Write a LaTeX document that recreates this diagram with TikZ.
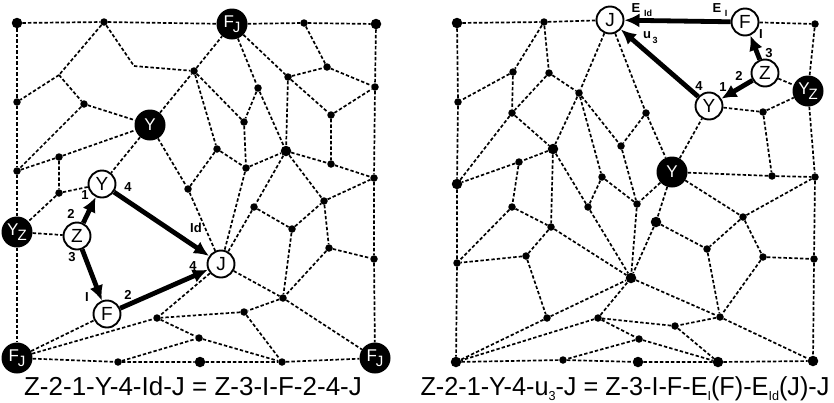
\documentclass[tikz,border=0pt]{standalone}
\usepackage{fontspec}
\setmainfont{Liberation Sans}
\usetikzlibrary{arrows.meta}
\tikzset{
  dl/.style={draw, line width=1.7pt, dash pattern=on 3.4pt off 2.1pt},
  dot/.style={circle, fill=black, inner sep=0pt, minimum size=7.5pt},
  bigdot/.style={circle, fill=black, inner sep=0pt, minimum size=10.5pt},
  wnode/.style={circle, draw=black, line width=1.9pt, fill=white, inner sep=0pt, minimum size=27pt, font=\fontsize{19}{19}\selectfont},
  bnode/.style={circle, fill=black, text=white, inner sep=0pt, minimum size=31pt, font=\fontsize{17}{17}\selectfont},
  thk/.style={draw, line width=4.8pt, -{Latex[length=15pt,width=14pt]}},
  lbl/.style={inner sep=0pt, font=\bfseries\fontsize{13}{13}\selectfont},
  slbl/.style={inner sep=0pt, font=\bfseries\fontsize{9}{9}\selectfont},
  captxt/.style={inner sep=0pt, anchor=base, font=\fontsize{26}{26}\selectfont}
}
\newcommand{\lowsub}[2]{#1\kern-1pt\raisebox{-4.5pt}{\fontsize{15}{15}\selectfont #2}}
\newcommand{\capsub}[1]{\raisebox{-5pt}{\fontsize{13}{13}\selectfont #1}}
\begin{document}
\begin{tikzpicture}[x=1pt,y=-1pt]
\useasboundingbox (0,0) rectangle (834,402);
% ---------------- LEFT PANEL ----------------
\node[bigdot] (Lc1) at (17,23) {};
\node[dot] (Lt1) at (104,22) {};
\node[bnode] (LFJt) at (232,24) {\lowsub{F}{J}};
\node[dot] (Lt2) at (304,23) {};
\node[bigdot] (Lc2) at (376,24) {};
\coordinate (Lj1) at (134,66);
\coordinate (Lj2) at (59,75);
\node[dot] (Ll1) at (17,102) {};
\node[dot] (La4) at (84,104) {};
\node[bnode] (LYb) at (150,125) {Y};
\node[dot] (La5) at (194,71) {};
\node[dot] (Ll2) at (17,171) {};
\node[dot] (La7) at (59,157) {};
\node[dot] (La8) at (59,193) {};
\node[wnode] (LYw) at (102,184) {Y};
\node[dot] (La9) at (188,189) {};
\node[bnode] (LYZ) at (17,232) {\lowsub{Y}{Z}};
\node[wnode] (LZ) at (77,236) {Z};
\node[wnode] (LF) at (107,314) {F};
\node[wnode] (LJ) at (221,264) {J};
\node[bnode] (LFJbl) at (17,358) {\lowsub{F}{J}};
\node[bnode] (LFJbr) at (375,358) {\lowsub{F}{J}};
\node[dot] (Lb1) at (118,362) {};
\node[bigdot] (Lb2) at (200,362) {};
\node[dot] (Lb3) at (282,362) {};
\node[dot] (Lp1) at (258,88) {};
\node[dot] (Lp2) at (288,77) {};
\node[dot] (Lp3) at (327,67) {};
\node[dot] (Lr1) at (375,87) {};
\node[dot] (Lp4) at (244,122) {};
\node[dot] (Lp5) at (331,115) {};
\node[dot] (Lp6) at (217,149) {};
\node[bigdot] (Lp7) at (286,151) {};
\node[dot] (Lp8) at (331,164) {};
\node[dot] (Lp9) at (246,168) {};
\node[dot] (Lr2) at (374,178) {};
\node[dot] (Lq1) at (324,201) {};
\node[dot] (Lq2) at (254,207) {};
\node[dot] (Lq3) at (292,229) {};
\node[dot] (Lq4) at (329,248) {};
\node[dot] (Lr3) at (374,259) {};
\node[dot] (Lq5) at (283,298) {};
\node[dot] (Lq6) at (244,312) {};
\node[dot] (Lq7) at (157,318) {};
\node[dot] (Lq8) at (199,338) {};

\draw[dl] (Lc1)--(Lt1) (Lt1)--(LFJt) (LFJt)--(Lt2) (Lt2)--(Lc2);
\draw[dl] (Lc1)--(Ll1) (Ll1)--(Ll2) (Ll2)--(LYZ) (LYZ)--(LFJbl);
\draw[dl] (Lc2)--(Lr1) (Lr1)--(Lr2) (Lr2)--(Lr3) (Lr3)--(LFJbr);
\draw[dl] (LFJbl)--(Lb1) (Lb1)--(Lb2) (Lb2)--(Lb3) (Lb3)--(LFJbr);
\draw[dl] (Lt1)--(Lj2) (Lt1)--(Lj1) (Lj1)--(La5) (Lj2)--(Ll1) (Lj2)--(La4);
\draw[dl] (La4)--(LYb) (La4)--(Ll2) (Ll2)--(La7) (La7)--(LYb) (La7)--(La8) (La8)--(LYw) (La8)--(LYZ) (LYZ)--(LZ);
\draw[dl] (LYb)--(La5) (LYb)--(LYw) (LYb)--(La9);
\draw[dl] (La5)--(LFJt) (La5)--(Lp6) (La5)--(Lp4);
\draw[dl] (LFJt)--(Lp1) (LFJt)--(Lp2);
\draw[dl] (Lp1)--(Lp4) (Lp1)--(Lp7);
\draw[dl] (Lp2)--(Lp3) (Lp2)--(Lp5) (Lp2)--(Lp7);
\draw[dl] (Lp3)--(Lt2) (Lp3)--(Lr1) (Lp5)--(Lr1) (Lp5)--(Lp8);
\draw[dl] (Lp4)--(Lp9) (Lp6)--(Lp9) (Lp9)--(Lp7) (Lp9)--(LJ);
\draw[dl] (Lp7)--(Lp8) (Lp8)--(Lr2) (Lp7)--(Lq1) (Lp7)--(Lq2);
\draw[dl] (Lp6)--(La9) (La9)--(LJ);
\draw[dl] (Lq2)--(LJ) (Lq2)--(Lq3) (Lq3)--(Lq1) (Lq1)--(Lr2) (Lq1)--(Lq4) (Lq4)--(Lr3) (Lq3)--(Lq5) (LJ)--(Lq5) (Lq4)--(Lq5);
\draw[dl] (Lq5)--(LFJbr) (Lq5)--(Lq6) (Lq6)--(Lq7) (Lq6)--(Lb3);
\draw[dl] (LJ)--(Lq7) (Lq7)--(Lq8) (Lq8)--(Lb3) (Lb1)--(Lq8);
\draw[dl] (LFJbl)--(LF) (LFJbl)--(Lq7);

\draw[thk] (LZ)--(LYw);
\draw[thk] (LYw)--(LJ);
\draw[thk] (LZ)--(LF);
\draw[thk] (LF)--(LJ);

\node[lbl] (l1) at (71,214) {2};
\node[lbl] (l2) at (85,195) {1};
\node[lbl] (l3) at (128,187) {4};
\node[lbl] (l4) at (196,228) {Id};
\node[lbl] (l5) at (193,266) {4};
\node[lbl] (l6) at (72,257) {3};
\node[lbl] (l7) at (87,297) {I};
\node[lbl] (l8) at (128,295) {2};

\node[captxt] (capL) at (193,395) {Z-2-1-Y-4-Id-J = Z-3-I-F-2-4-J};

% ---------------- RIGHT PANEL ----------------
\node[bigdot] (Rc1) at (457,23) {};
\node[dot] (Rt1) at (544,22) {};
\node[wnode] (RJ) at (610,20) {J};
\node[wnode] (RF) at (745,22) {F};
\node[dot] (Rc2) at (815,24) {};
\node[wnode] (RZ) at (765,73) {Z};
\node[wnode] (RYw) at (709,106) {Y};
\node[bnode] (RYZ) at (808,91) {\lowsub{Y}{Z}};
\node[dot] (Rs1) at (763,112) {};
\node[bnode] (RYb) at (672,172) {Y};
\node[dot] (Rs2) at (772,176) {};
\node[dot] (Rr2) at (815,177) {};
\node[dot] (Rl1) at (458,102) {};
\node[dot] (Ra1) at (513,72) {};
\node[dot] (Ra2) at (549,73) {};
\node[dot] (Ra3) at (579,93) {};
\node[dot] (Ra4) at (512,113) {};
\node[bigdot] (Ra5) at (553,149) {};
\node[dot] (Ra6) at (519,162) {};
\node[bigdot] (Rl2) at (457,184) {};
\node[dot] (Ra7) at (646,113) {};
\node[dot] (Ra8) at (621,146) {};
\node[dot] (Ra9) at (602,177) {};
\node[dot] (Rb1) at (512,207) {};
\node[dot] (Rb2) at (588,207) {};
\node[dot] (Rb3) at (637,204) {};
\node[bigdot] (Rb4) at (656,222) {};
\node[dot] (Rb5) at (551,227) {};
\node[dot] (Rb6) at (526,256) {};
\node[dot] (Rl3) at (457,263) {};
\node[bigdot] (Rb7) at (631,278) {};
\node[dot] (Rb8) at (707,249) {};
\node[dot] (Rb9) at (743,217) {};
\node[dot] (Rb10) at (763,257) {};
\node[dot] (Rr3) at (814,259) {};
\node[dot] (Rd1) at (547,318) {};
\node[dot] (Rd2) at (598,318) {};
\node[dot] (Rd3) at (675,326) {};
\node[dot] (Rd4) at (639,339) {};
\node[dot] (Rd5) at (720,317) {};
\node[bigdot] (Rc3) at (456,362) {};
\node[dot] (Rbot1) at (563,360) {};
\node[bigdot] (Rbot2) at (638,362) {};
\node[bigdot] (Rbot3) at (718,362) {};
\node[bigdot] (Rc4) at (813,361) {};

\draw[dl] (Rc1)--(Rt1) (Rt1)--(RJ) (RF)--(Rc2);
\draw[dl] (Rc1)--(Rl1) (Rl1)--(Rl2) (Rl2)--(Rl3) (Rl3)--(Rc3);
\draw[dl] (Rc2)--(RYZ) (RYZ)--(Rr2) (Rr2)--(Rr3) (Rr3)--(Rc4);
\draw[dl] (Rc3)--(Rbot1) (Rbot1)--(Rbot2) (Rbot2)--(Rbot3) (Rbot3)--(Rc4);
\draw[dl] (Rt1)--(Ra1) (Rt1)--(Ra2) (Ra1)--(Rl1) (Ra1)--(Ra4) (Ra2)--(Ra4) (Ra2)--(Ra3);
\draw[dl] (RJ)--(Ra3) (RJ)--(Ra7);
\draw[dl] (Ra3)--(Ra5) (Ra3)--(Ra8) (Ra3)--(Ra9);
\draw[dl] (Ra4)--(Ra5) (Ra4)--(Rl2);
\draw[dl] (Ra5)--(Ra6) (Ra6)--(Rl2) (Ra6)--(Rb1) (Ra5)--(Rb5) (Ra5)--(Rb2);
\draw[dl] (Ra7)--(Ra8) (Ra7)--(RYb);
\draw[dl] (Ra8)--(Rb3) (Ra9)--(Rb3) (Ra9)--(Rb2);
\draw[dl] (RYb)--(RYw) (RYb)--(Rs2) (RYb)--(Rb9) (RYb)--(Rb3) (RYb)--(Rb4);
\draw[dl] (RYw)--(Rs1) (Rs1)--(RYZ) (Rs1)--(Rs2) (Rs2)--(Rr2) (RZ)--(RYZ);
\draw[dl] (Rb9)--(Rr2) (Rb9)--(Rb8) (Rb9)--(Rb10) (Rb10)--(Rr3) (Rb10)--(Rd5);
\draw[dl] (Rb4)--(Rb8) (Rb4)--(Rb7) (Rb3)--(Rb7) (Rb2)--(Rb7) (Rb5)--(Rb7);
\draw[dl] (Rb8)--(Rd5) (Rb7)--(Rd5) (Rd5)--(Rd3) (Rd5)--(Rc4);
\draw[dl] (Rb1)--(Rb5) (Rb1)--(Rl3) (Rb5)--(Rb6) (Rb6)--(Rl3) (Rb6)--(Rd1);
\draw[dl] (Rd1)--(Rb7) (Rd1)--(Rc3) (Rd2)--(Rc3) (Rd2)--(Rb7) (Rd2)--(Rd3) (Rd2)--(Rd4);
\draw[dl] (Rd3)--(Rbot3) (Rd4)--(Rbot1) (Rd4)--(Rbot3);

\draw[thk] (RZ)--(RYw);
\draw[thk] (RZ)--(RF);
\draw[thk] (RF)--(RJ);
\draw[thk] (RYw)--(RJ);

\node[lbl] (r1) at (636,8) {E};
\node[slbl] (r1s) at (648,13) {Id};
\node[lbl] (r2) at (717,8) {E};
\node[slbl] (r2s) at (726,13) {I};
\node[lbl] (r3) at (647,35) {u};
\node[slbl] (r3s) at (655,40) {3};
\node[lbl] (r4) at (761,34) {I};
\node[lbl] (r5) at (769,53) {3};
\node[lbl] (r6) at (739,76) {2};
\node[lbl] (r7) at (723,87) {1};
\node[lbl] (r8) at (699,86) {4};

\node[captxt] (capR) at (625,395) {\scalebox{0.97}[1]{Z-2-1-Y-4-u\capsub{3}-J = Z-3-I-F-E\capsub{I}(F)-E\capsub{Id}(J)-J}};
\end{tikzpicture}
\end{document}
